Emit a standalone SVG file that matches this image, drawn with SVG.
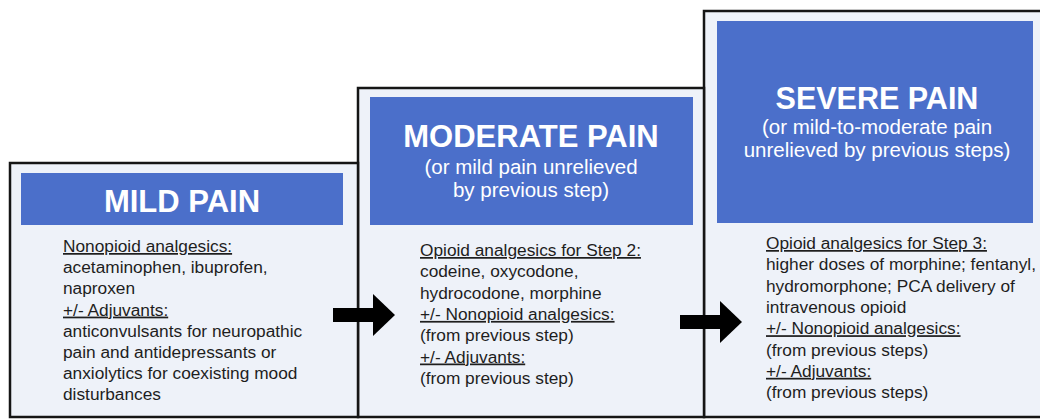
<svg xmlns="http://www.w3.org/2000/svg" width="1040" height="419" viewBox="0 0 1040 419">
  <style>
    .box { fill: #eef2f9; stroke: #151515; stroke-width: 2.5; }
    .hdr { fill: #4b6fca; }
    .title { font-family: "Liberation Sans", Arial, sans-serif; font-weight: bold; fill: #ffffff; text-anchor: middle; }
    .sub { font-family: "Liberation Sans", Arial, sans-serif; font-size: 20.5px; fill: #ffffff; text-anchor: middle; }
    .body { font-family: "Liberation Sans", Arial, sans-serif; font-size: 17.3px; fill: #1e1e1e; }
    .u { text-decoration: underline; }
    .arrow { stroke: #000; stroke-width: 14; fill: none; }
  </style>
  <defs>
    <marker id="head" markerUnits="userSpaceOnUse" markerWidth="22" markerHeight="42" viewBox="0 0 22 42" refX="1" refY="21" orient="auto">
      <path d="M0,0 L22,21 L0,42 Z" fill="#000"/>
    </marker>
  </defs>
  <rect width="1040" height="419" fill="#ffffff"/>

  <g id="step3">
    <rect class="box" x="704" y="11" width="345" height="406"/>
    <rect class="hdr" x="717" y="21" width="316" height="202"/>
    <text class="title" x="877" y="109" font-size="30.5">SEVERE PAIN</text>
    <text class="sub" x="877" y="134">(or mild-to-moderate pain</text>
    <text class="sub" x="877" y="157">unrelieved by previous steps)</text>
    <text class="body">
      <tspan class="u" x="766" y="249">Opioid analgesics for Step 3:</tspan>
      <tspan x="766" y="270.3">higher doses of morphine; fentanyl,</tspan>
      <tspan x="766" y="291.6">hydromorphone; PCA delivery of</tspan>
      <tspan x="766" y="312.9">intravenous opioid</tspan>
      <tspan class="u" x="766" y="334.2">+/- Nonopioid analgesics:</tspan>
      <tspan x="766" y="355.5">(from previous steps)</tspan>
      <tspan class="u" x="766" y="376.8">+/- Adjuvants:</tspan>
      <tspan x="766" y="398.1">(from previous steps)</tspan>
    </text>
  </g>

  <g id="step2">
    <rect class="box" x="358" y="88" width="346" height="329"/>
    <rect class="hdr" x="370" y="97" width="323" height="128"/>
    <text class="title" x="531" y="147" font-size="31">MODERATE PAIN</text>
    <text class="sub" x="531" y="174">(or mild pain unrelieved</text>
    <text class="sub" x="531" y="197">by previous step)</text>
    <text class="body">
      <tspan class="u" x="420" y="256">Opioid analgesics for Step 2:</tspan>
      <tspan x="420" y="277.3">codeine, oxycodone,</tspan>
      <tspan x="420" y="298.6">hydrocodone, morphine</tspan>
      <tspan class="u" x="420" y="319.9">+/- Nonopioid analgesics:</tspan>
      <tspan x="420" y="341.2">(from previous step)</tspan>
      <tspan class="u" x="420" y="362.5">+/- Adjuvants:</tspan>
      <tspan x="420" y="383.8">(from previous step)</tspan>
    </text>
  </g>

  <g id="step1">
    <rect class="box" x="10" y="163" width="348" height="254"/>
    <rect class="hdr" x="21" y="173" width="322" height="52"/>
    <text class="title" x="182" y="212" font-size="31">MILD PAIN</text>
    <text class="body">
      <tspan class="u" x="63" y="252">Nonopioid analgesics:</tspan>
      <tspan x="63" y="273.2">acetaminophen, ibuprofen,</tspan>
      <tspan x="63" y="294.4">naproxen</tspan>
      <tspan class="u" x="63" y="315.6">+/- Adjuvants:</tspan>
      <tspan x="63" y="336.8">anticonvulsants for neuropathic</tspan>
      <tspan x="63" y="358">pain and antidepressants or</tspan>
      <tspan x="63" y="379.2">anxiolytics for coexisting mood</tspan>
      <tspan x="63" y="400.4">disturbances</tspan>
    </text>
  </g>

  <g id="connectors">
    <line class="arrow" x1="333" y1="315" x2="374" y2="315" marker-end="url(#head)"/>
    <line class="arrow" x1="680" y1="322" x2="721" y2="322" marker-end="url(#head)"/>
  </g>
</svg>
